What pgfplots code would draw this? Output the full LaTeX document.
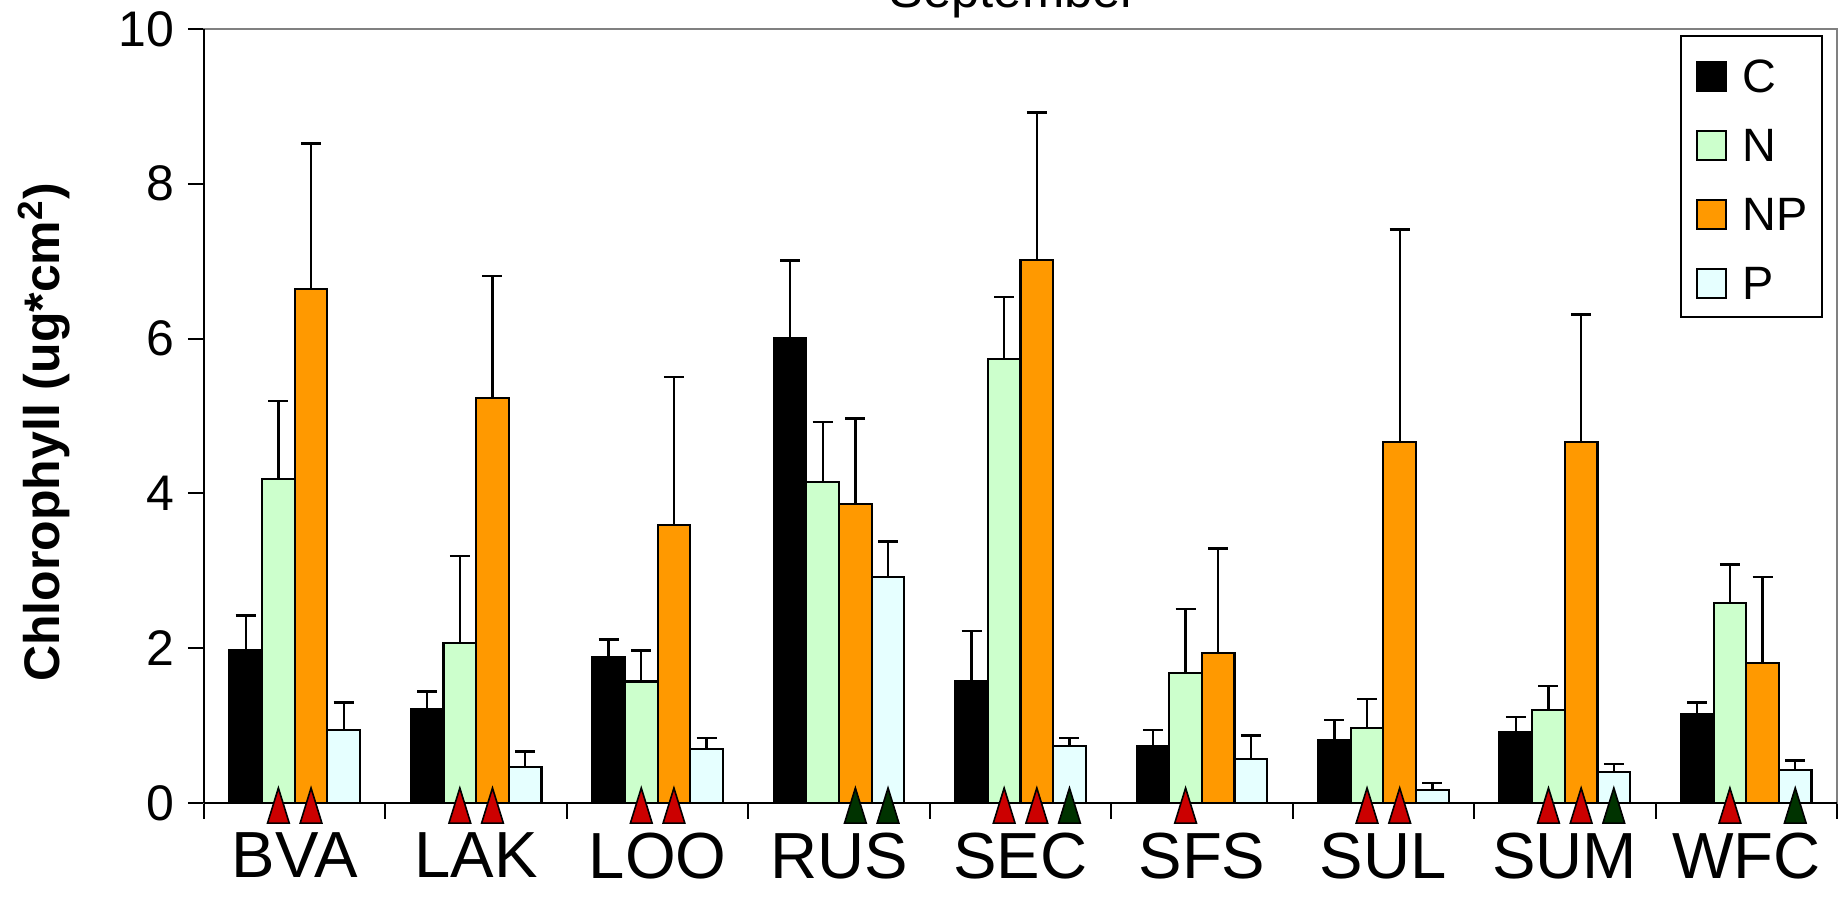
\documentclass[border=0pt]{standalone}
\usepackage{pgfplots}
\pgfplotsset{compat=1.18}
\usepackage{fontspec}
\setmainfont{Liberation Sans}
\definecolor{cN}{HTML}{CCFFCC}
\definecolor{cNP}{HTML}{FF9900}
\definecolor{cP}{HTML}{E6FFFF}
\definecolor{tRed}{HTML}{CC0000}
\definecolor{tGreen}{HTML}{003300}
\newcommand\ftick{\fontsize{12.5}{14}\selectfont}
\newcommand\fx{\fontsize{16.3}{18}\selectfont}
\newcommand\fleg{\fontsize{11.7}{14}\selectfont}
\pgfplotsset{
  mybar/.style={ybar, bar width=8.165pt, bar shift=0pt, draw=black, line width=0.55pt,
    error bars/y dir=plus, error bars/y explicit,
    error bars/error bar style={black, line width=0.6pt},
    error bars/error mark options={black, rotate=90, mark size=2.5pt, line width=0.6pt}},
  tri/.style={forget plot, only marks, mark=triangle*, mark size=3.13pt,
    mark options={fill=#1, draw=black, line width=0.4pt, yscale=1.87}},
}
\begin{document}
\begin{tikzpicture}
\begin{axis}[
  at={(0pt,0pt)}, anchor=south west,
  scale only axis, width=408.25pt, height=193.5pt,
  xmin=-0.5, xmax=8.5, ymin=0, ymax=10,
  clip=false,
  axis line style={draw=gray, line width=0.7pt},
  tick align=outside, tick pos=left,
  major tick length=4pt, minor tick length=4pt,
  xtick={0,...,8},
  xticklabels={BVA,LAK,LOO,RUS,SEC,SFS,SUL,SUM,WFC},
  minor xtick={-0.5,0.5,...,8.5},
  major x tick style={draw=none},
  minor x tick style={black, line width=0.5pt},
  ytick={0,2,...,10},
  y tick style={black, line width=0.5pt},
  /pgf/number format/assume math mode=true,
  yticklabel style={font=\ftick},
  xticklabel style={font=\fx},
  ylabel={\textbf{Chlorophyll (ug*cm\textsuperscript{2})}},
  ylabel style={font=\fontsize{12.5}{14}\selectfont, at={(axis description cs:-0.098,0.479)}, anchor=center},
  legend style={at={(rel axis cs:0.9045,0.9910)}, anchor=north west, xshift=3.5pt, yshift=-5.8pt,
    draw=none, fill=none, font=\fleg, inner sep=0pt, row sep=9.2pt, column sep=3.75pt,
    nodes={inner sep=0pt, text depth=0pt}},
  legend cell align=left,
  legend image code/.code={\draw[#1,/tikz/.cd,line width=0.55pt,draw=black] (0pt,-3.65pt) rectangle (7.3pt,3.65pt);},
]
\draw[black, line width=0.5pt] (rel axis cs:0.9045,0.9910) rectangle (rel axis cs:0.9908,0.6279);
% C (x = site - 0.27)
\addplot[mybar, fill=black] coordinates {
 (-0.27,1.97) +- (0,0.45) (0.73,1.21) +- (0,0.23) (1.73,1.88) +- (0,0.23)
 (2.73,6.01) +- (0,1.00) (3.73,1.58) +- (0,0.64) (4.73,0.74) +- (0,0.20)
 (5.73,0.81) +- (0,0.26) (6.73,0.91) +- (0,0.20) (7.73,1.15) +- (0,0.15)};
% N (x = site - 0.09)
\addplot[mybar, fill=cN] coordinates {
 (-0.09,4.19) +- (0,1.00) (0.91,2.07) +- (0,1.12) (1.91,1.57) +- (0,0.40)
 (2.91,4.15) +- (0,0.77) (3.91,5.74) +- (0,0.80) (4.91,1.68) +- (0,0.83)
 (5.91,0.97) +- (0,0.37) (6.91,1.20) +- (0,0.31) (7.91,2.58) +- (0,0.50)};
% NP (x = site + 0.09)
\addplot[mybar, fill=cNP] coordinates {
 (0.09,6.64) +- (0,1.88) (1.09,5.23) +- (0,1.58) (2.09,3.59) +- (0,1.91)
 (3.09,3.86) +- (0,1.11) (4.09,7.02) +- (0,1.90) (5.09,1.94) +- (0,1.35)
 (6.09,4.66) +- (0,2.75) (7.09,4.66) +- (0,1.65) (8.09,1.81) +- (0,1.11)};
% P (x = site + 0.27)
\addplot[mybar, fill=cP] coordinates {
 (0.27,0.94) +- (0,0.36) (1.27,0.46) +- (0,0.205) (2.27,0.70) +- (0,0.14)
 (3.27,2.92) +- (0,0.46) (4.27,0.74) +- (0,0.10) (5.27,0.57) +- (0,0.30)
 (6.27,0.17) +- (0,0.09) (7.27,0.40) +- (0,0.10) (8.27,0.43) +- (0,0.12)};
\legend{C,N,NP,P}
\addplot[tri=tRed] coordinates {
 (-0.09,-0.1085) (0.09,-0.1085) (0.91,-0.1085) (1.09,-0.1085) (1.91,-0.1085) (2.09,-0.1085)
 (3.91,-0.1085) (4.09,-0.1085) (4.91,-0.1085) (5.91,-0.1085) (6.09,-0.1085)
 (6.91,-0.1085) (7.09,-0.1085) (7.91,-0.1085)};
\addplot[tri=tGreen] coordinates {
 (3.09,-0.1085) (3.27,-0.1085) (4.27,-0.1085) (7.27,-0.1085) (8.27,-0.1085)};
\draw[black, line width=0.6pt] (rel axis cs:0,0) -- (rel axis cs:0,1);
\draw[black, line width=0.6pt] (rel axis cs:0,0) -- (rel axis cs:1,0);
\node[anchor=base, font=\fontsize{12.7}{14}\selectfont] at (rel axis cs:0.4958,1) [yshift=5.25pt] {September};
\end{axis}
\pgfresetboundingbox
\useasboundingbox (-51pt,-25.5pt) rectangle (411pt,200.75pt);
\end{tikzpicture}
\end{document}
